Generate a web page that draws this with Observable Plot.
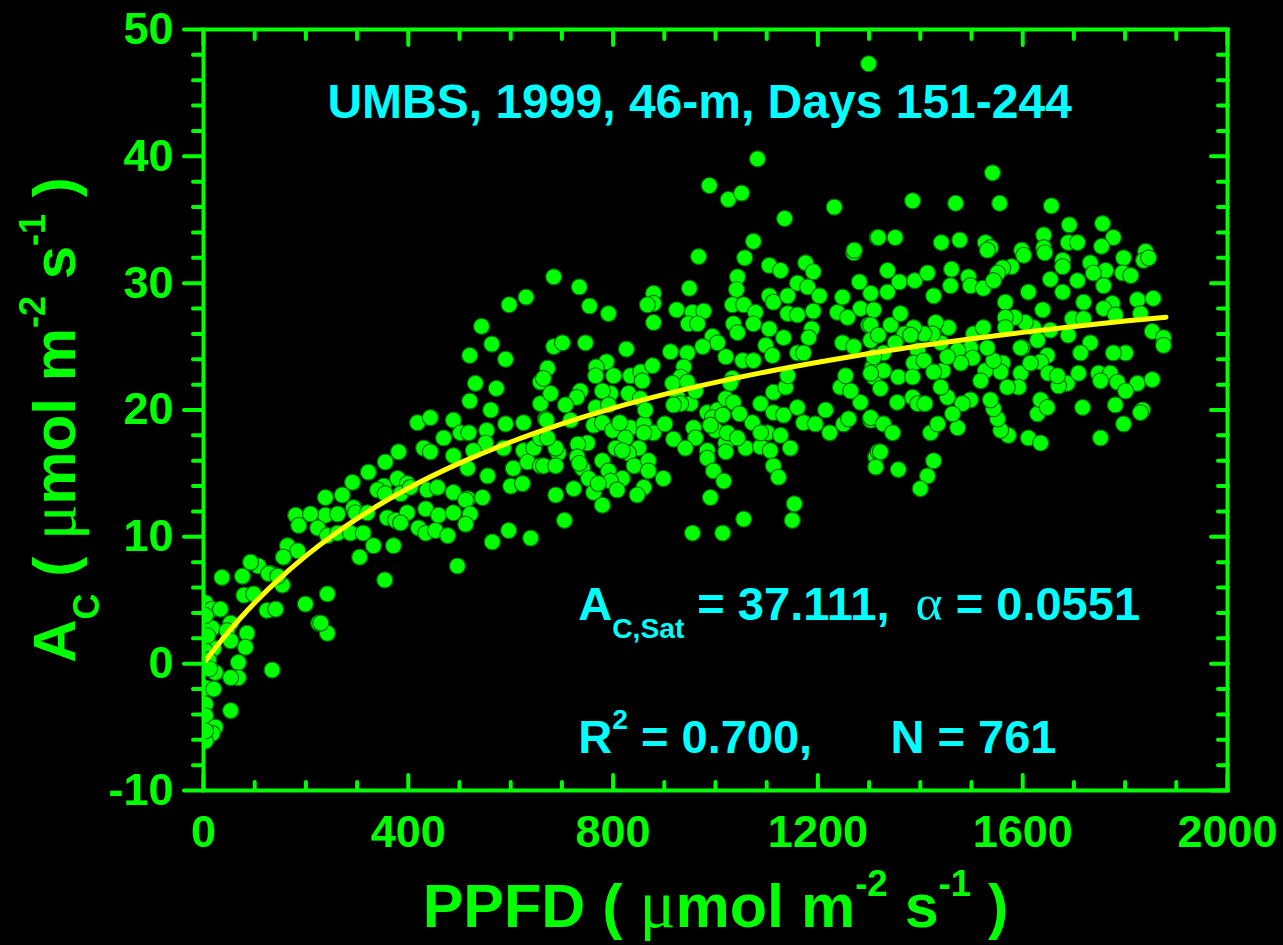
<!DOCTYPE html>
<html>
<head>
<meta charset="utf-8">
<script src="https://cdn.jsdelivr.net/npm/d3@7"></script>
<script src="https://cdn.jsdelivr.net/npm/@observablehq/plot@0.6"></script>
<style>
  html, body { margin: 0; padding: 0; background: #000; overflow: hidden; }
  #chart svg text { white-space: pre; }
</style>
</head>
<body>
<div id="chart"></div>
<script>
// ---------- data: [PPFD, Ac] ----------
const lowLightPts = [[36,6.8],[76,6.9],[107,7.7],[131,7.1],[92,8.0],[154,6.2],[79,5.4],[98,5.5],[4,4.8],[17,4.3],[33,4.3],[124,4.2],[141,4.3],[199,4.7],[225,3.2],[4,3.0],[17,2.8],[53,3.2],[46,2.6],[85,2.4],[4,1.7],[20,1.2],[53,1.8],[82,1.3],[4,1.0],[23,-0.7],[68,0.1],[68,-1.1],[53,-1.1],[134,-0.5],[4,-1.9],[20,-2.0],[4,-3.2],[53,-3.7],[4,-4.1],[23,-5.0],[17,-5.5],[4,-6.1],[4,-5.3],[4,3.8],[242,5.5],[242,2.4],[10,0.3],[8,2.2],[12,-0.4]];

const risingPts = [[531,22.1],[572,21.7],[658,22.2],[520,20.7],[561,20.0],[658,20.5],[418,19.0],[443,19.4],[488,19.2],[502,18.2],[518,18.2],[553,18.4],[590,18.9],[625,19.0],[668,19.3],[469,17.8],[551,17.4],[586,17.0],[625,16.8],[645,17.0],[430,17.0],[443,16.7],[381,16.7],[355,15.9],[488,16.4],[527,16.8],[605,15.4],[633,15.9],[658,15.6],[516,15.4],[555,14.8],[600,14.0],[623,14.2],[322,15.1],[379,14.6],[352,14.0],[398,14.2],[340,13.7],[355,13.4],[385,13.4],[404,13.9],[437,13.7],[457,13.9],[488,13.5],[516,13.0],[545,13.1],[291,14.3],[271,13.3],[238,13.1],[293,12.3],[238,11.7],[262,11.8],[297,11.9],[320,11.9],[359,11.5],[375,11.3],[398,11.9],[434,12.2],[459,11.7],[488,11.9],[512,12.9],[521,11.8],[180,11.7],[209,11.8],[186,10.9],[223,10.7],[242,10.1],[262,10.3],[287,10.3],[312,10.3],[385,11.1],[420,10.7],[434,10.3],[453,10.5],[477,10.1],[512,11.0],[564,9.6],[596,10.5],[639,9.9],[332,9.3],[371,9.3],[305,8.4],[164,9.3],[184,8.9],[156,8.4],[127,7.1],[145,6.9],[229,3.2],[354,6.6],[496,7.7]];

const midPts = [[1074,33.3],[967,32.1],[1057,32.0],[1270,32.4],[1316,33.6],[1105,31.4],[1127,31.0],[1176,31.6],[1191,30.9],[684,30.5],[734,29.7],[754,28.2],[791,27.6],[949,29.6],[1043,30.5],[1041,29.5],[879,29.2],[879,28.4],[867,28.3],[879,26.9],[924,27.9],[955,27.7],[977,27.8],[947,26.8],[965,26.8],[1033,28.3],[1055,28.3],[1078,27.7],[1105,29.0],[1113,28.5],[1141,29.0],[1160,30.0],[1180,29.7],[1203,29.0],[1141,27.6],[1160,27.5],[1191,27.8],[1035,26.8],[1043,26.1],[1074,26.8],[1105,26.4],[1133,25.7],[1188,26.4],[1182,25.7],[1248,28.9],[1281,30.1],[1303,29.2],[1238,27.7],[1258,27.3],[1283,28.0],[1309,27.9],[1299,26.7],[994,25.8],[1004,25.3],[975,25.0],[912,24.6],[945,24.5],[938,23.4],[932,22.6],[922,21.8],[926,21.0],[951,20.5],[961,21.5],[672,23.3],[664,22.5],[684,25.0],[701,25.3],[746,25.3],[826,24.8],[787,23.8],[767,23.4],[766,22.7],[801,22.7],[834,22.7],[854,23.0],[857,22.3],[877,23.5],[830,21.3],[795,21.3],[779,21.5],[736,21.5],[729,21.0],[853,20.9],[707,20.4],[766,20.2],[791,20.4],[670,19.2],[717,19.2],[762,18.8],[779,19.0],[799,18.4],[834,18.6],[860,18.9],[879,18.2],[824,17.8],[805,17.0],[850,17.0],[750,17.4],[731,17.3],[693,16.6],[664,15.6],[688,15.6],[730,16.3],[740,15.4],[779,16.0],[791,15.2],[830,16.6],[841,15.6],[869,16.0],[869,15.2],[898,14.6],[818,14.6],[795,14.4],[752,14.6],[723,13.8],[762,13.5],[808,13.7],[860,13.9],[847,13.3],[779,12.5],[688,13.3],[705,11.3],[918,17.7],[957,18.6],[984,16.8],[984,16.2],[996,15.2],[1016,14.4],[990,13.1],[955,10.3],[1014,10.3],[1055,11.4],[1154,12.6],[1150,11.3],[1000,18.4],[1020,17.4],[1020,16.7],[1023,18.2],[1059,17.0],[1088,17.1],[1101,18.2],[1107,16.8],[1127,18.0],[1113,15.6],[1123,14.7],[1146,17.0],[1072,19.0],[984,19.8],[1004,20.0],[1020,20.9],[1035,20.6],[1047,19.7],[1088,20.5],[1113,19.8],[1133,19.6],[1113,21.4],[1137,21.8],[1141,22.7],[1160,20.2],[1172,19.0],[1195,18.9],[1215,20.0],[1223,18.2],[1250,18.9],[1260,19.3],[1283,20.6],[1303,19.2],[1244,21.8],[1264,21.5],[1254,22.7],[1309,22.6],[1248,25.3],[1270,25.0],[1307,23.4],[1313,16.3],[1318,16.7],[1020,24.2],[1053,23.9],[1074,23.9],[1098,25.1],[1111,24.3],[1160,24.5],[1172,24.5],[1033,22.5],[1029,22.1],[994,19.4],[990,18.8],[1014,19.6],[961,17.8],[1043,17.8],[1088,18.2],[941,17.0],[916,22.1],[945,22.2],[932,20.5],[918,20.4],[901,18.9],[863,20.0],[813,19.0],[678,21.3],[860,18.2],[818,16.8],[734,15.8],[771,14.2],[688,17.0],[658,17.8],[672,17.8]];

const topPts = [[1299,47.3],[1082,39.8],[988,37.7],[1025,36.6],[1051,37.1],[1135,35.1],[1232,36.0],[1541,38.7],[1385,36.5],[1469,36.3],[1555,36.3],[1656,36.1],[1691,34.6],[1756,34.7],[1777,33.6],[1641,33.8],[1689,33.2],[1707,33.2],[1441,33.2],[1477,33.4],[1527,33.2],[1537,32.8],[1318,33.6],[1351,33.6],[1271,32.6],[1598,32.6],[1641,32.8],[1754,32.9],[1840,32.5],[543,26.6],[597,28.3],[563,25.2],[520,24.3],[590,24.0],[630,28.9]];

const highPts = [[1531,32.6],[1643,32.4],[1602,32.2],[1678,31.8],[1678,31.3],[1797,32.0],[1836,31.8],[1846,32.0],[1578,31.3],[1561,31.2],[1551,30.8],[1732,31.6],[1762,31.0],[1795,30.8],[1811,30.6],[1336,31.0],[1359,30.1],[1389,30.2],[1414,30.8],[1461,31.1],[1494,30.5],[1654,30.3],[1707,30.2],[1738,30.8],[1758,29.8],[1459,29.8],[1498,29.8],[1523,29.6],[1543,30.2],[1611,29.3],[1678,29.3],[1719,28.5],[1775,28.4],[1824,28.7],[1855,28.8],[1336,29.3],[1426,29.0],[1566,28.5],[1639,27.9],[1697,27.2],[1719,27.2],[1758,28.0],[1781,27.5],[1830,27.6],[1853,26.2],[1875,25.7],[1875,25.1],[1801,24.5],[1777,24.5],[1732,25.3],[1713,24.5],[1689,25.9],[1654,26.3],[1621,26.5],[1605,26.9],[1584,27.3],[1566,27.3],[1566,26.5],[1599,24.9],[1629,25.5],[1648,24.3],[1635,23.8],[1650,22.9],[1687,22.1],[1709,22.9],[1748,22.9],[1771,22.9],[1785,22.2],[1824,22.1],[1853,22.4],[1801,21.5],[1834,20.0],[1797,18.9],[1752,17.8],[1781,20.4],[1717,20.2],[1629,19.7],[1635,20.8],[1611,17.8],[1635,17.4],[1648,20.2],[1596,22.9],[1592,21.8],[1570,21.8],[1561,23.7],[1557,23.0],[1572,18.0],[1557,18.4],[1551,19.3],[1543,20.1],[1537,20.8],[1527,23.1],[1543,23.9],[1531,24.9],[1504,26.0],[1523,26.5],[1498,24.9],[1502,24.1],[1518,22.3],[1473,24.7],[1479,23.7],[1498,20.8],[1482,20.5],[1473,18.6],[1463,19.7],[1453,21.0],[1440,21.8],[1444,23.1],[1453,24.2],[1440,25.3],[1455,26.5],[1430,26.9],[1424,26.0],[1407,26.0],[1387,26.5],[1369,26.0],[1342,26.7],[1361,27.6],[1303,26.7],[1303,25.5],[1318,25.9],[1328,24.5],[1351,25.3],[1381,25.9],[1395,24.7],[1596,24.9],[1615,23.7],[1670,21.9],[1668,22.7],[1752,22.3],[1309,24.2],[1328,23.1],[1303,22.9],[1357,22.6],[1387,23.7],[1385,22.6],[1407,23.9],[1426,23.0],[1385,21.0],[1395,20.5],[1409,20.5],[1355,20.6],[1322,21.7],[1303,19.4],[1328,18.9],[1346,18.2],[1322,16.7],[1313,15.5],[1357,15.3],[1426,16.0],[1414,14.8],[1400,13.8],[1420,18.2],[1434,18.9],[1830,19.8]];

// fitted light-response curve
const curvePPFD = [5,10,25,50,75,100,150,200,250,300,400,500,600,700,800,900,1000,1100,1200,1300,1400,1500,1600,1700,1800,1880];
const curveAc   = [0.27,0.54,1.33,2.57,3.72,4.80,6.76,8.50,10.05,11.44,13.83,15.81,17.48,18.91,20.15,21.23,22.18,23.02,23.77,24.45,25.06,25.61,26.12,26.58,27.01,27.32];

// ticks
const xMajorTicks = [0,400,800,1200,1600,2000];
const xMinorTicks = [100,200,300,500,600,700,900,1000,1100,1300,1400,1500,1700,1800,1900];
const yMajorTicks = [-10,0,10,20,30,40,50];
const yMinorTicks = [-8,-6,-4,-2,2,4,6,8,12,14,16,18,22,24,26,28,32,34,36,38,42,44,46,48];

// texts (markup: _{sub}  ^{sup}  @{symbol-font})
const titleNote = [{x: 969, y: 44.2, label: "UMBS, 1999, 46-m, Days 151-244"}];
const fitNotes = [
  {x: 732, y: 4.66, label: "A_{C,Sat} = 37.111,  @{α} = 0.0551"},
  {x: 732, y: -5.84, label: "R^{2} = 0.700,      N = 761"}
];
const xLabel = ["PPFD ( @{μ}mol m^{-2} s^{-1} )"];
const yLabel = ["A_{C} ( @{μ}mol m^{-2} s^{-1} )"];

// ---------- build ----------
const GREEN = "#00FF00", CYAN = "#00FFFF", YELLOW = "#FFFF00";
const points = [...lowLightPts, ...risingPts, ...midPts, ...topPts, ...highPts];
const curve = curvePPFD.map((p, i) => ({ppfd: p, ac: curveAc[i]}));
const fmt = d => String(d);
const tickStyle = {stroke: GREEN, fill: "none", strokeWidth: 4, strokeLinecap: "round", label: null};

const chart = Plot.plot({
  width: 1283,
  height: 945,
  marginLeft: 203,
  marginRight: 56,
  marginTop: 29,
  marginBottom: 155,
  x: {domain: [0, 2000]},
  y: {domain: [-10, 50]},
  style: {background: "#000", color: GREEN, fontFamily: "'Liberation Sans', Arial, sans-serif", fontWeight: "bold"},
  marks: [
    Plot.dot(points, {x: d => d[0], y: d => d[1], r: 8, fill: GREEN, stroke: "#007000", strokeWidth: 1.2, clip: true}),
    Plot.line(curve, {x: "ppfd", y: "ac", stroke: YELLOW, strokeWidth: 5, curve: "monotone-x"}),
    Plot.frame({stroke: GREEN, strokeWidth: 4}),
    // bottom ticks (inward)
    Plot.axisX({...tickStyle, ticks: xMajorTicks, anchor: "bottom", tickSize: 15, dy: -15}),
    Plot.axisX({...tickStyle, ticks: xMinorTicks, anchor: "bottom", tickSize: 8, dy: -8}),
    // top ticks (inward)
    Plot.axisX({...tickStyle, ticks: xMajorTicks, anchor: "top", tickSize: 15, dy: 15}),
    Plot.axisX({...tickStyle, ticks: xMinorTicks, anchor: "top", tickSize: 9, dy: 9}),
    // left ticks (outward)
    Plot.axisY({...tickStyle, ticks: yMajorTicks, anchor: "left", tickSize: 19}),
    Plot.axisY({...tickStyle, ticks: yMinorTicks, anchor: "left", tickSize: 10}),
    // right ticks (inward)
    Plot.axisY({...tickStyle, ticks: yMajorTicks, anchor: "right", tickSize: 17, dx: -17}),
    Plot.axisY({...tickStyle, ticks: yMinorTicks, anchor: "right", tickSize: 10, dx: -10}),
    // tick labels
    Plot.axisX({ticks: xMajorTicks, anchor: "bottom", tickSize: 0, tickPadding: 25, fontSize: 45, fill: GREEN, tickFormat: fmt, label: null}),
    Plot.axisY({ticks: yMajorTicks, anchor: "left", tickSize: 0, tickPadding: 30, fontSize: 45, fill: GREEN, tickFormat: fmt, label: null}),
    // axis titles
    Plot.text(xLabel, {text: d => d, frameAnchor: "bottom", textAnchor: "middle", dy: 136, fontSize: 61, fill: GREEN, fontWeight: "bold"}),
    Plot.text(yLabel, {text: d => d, frameAnchor: "left", textAnchor: "middle", rotate: -90, dx: -148, dy: 10, fontSize: 60, fill: GREEN, fontWeight: "bold"}),
    // annotations
    Plot.text(titleNote, {x: "x", y: "y", text: "label", textAnchor: "middle", fontSize: 48, fill: CYAN, fontWeight: "bold"}),
    Plot.text(fitNotes, {x: "x", y: "y", text: "label", textAnchor: "start", fontSize: 47, fill: CYAN, fontWeight: "bold"})
  ]
});

document.getElementById("chart").appendChild(chart);

// convert markup to tspans (sub/superscripts, symbol glyphs)
function richify(svg) {
  const NS = "http://www.w3.org/2000/svg";
  svg.querySelectorAll("text").forEach(el => {
    const s = el.textContent;
    if (!/[_^@]\{/.test(s)) return;
    const F = parseFloat(getComputedStyle(el).fontSize) || 45;
    while (el.firstChild) el.removeChild(el.firstChild);
    const re = /([_^@])\{([^}]*)\}/g;
    let last = 0, m, cur = 0;
    const add = (txt, shift, attrs) => {
      if (!txt) return;
      const t = document.createElementNS(NS, "tspan");
      const d = shift - cur;
      if (d) t.setAttribute("dy", d);
      cur = shift;
      for (const k in attrs) t.setAttribute(k, attrs[k]);
      t.textContent = txt;
      el.appendChild(t);
    };
    while ((m = re.exec(s))) {
      add(s.slice(last, m.index), 0, {});
      const kind = m[1], txt = m[2];
      if (kind === "_") add(txt, 0.4 * F, {"font-size": 0.6 * F});
      else if (kind === "^") add(txt, -0.5 * F, {"font-size": 0.6 * F});
      else add(txt, 0, {"font-family": "'Liberation Serif', 'Times New Roman', serif", "font-weight": "normal", "font-size": 1.1 * F});
      last = re.lastIndex;
    }
    add(s.slice(last), 0, {});
  });
}
richify(chart);
</script>
</body>
</html>
